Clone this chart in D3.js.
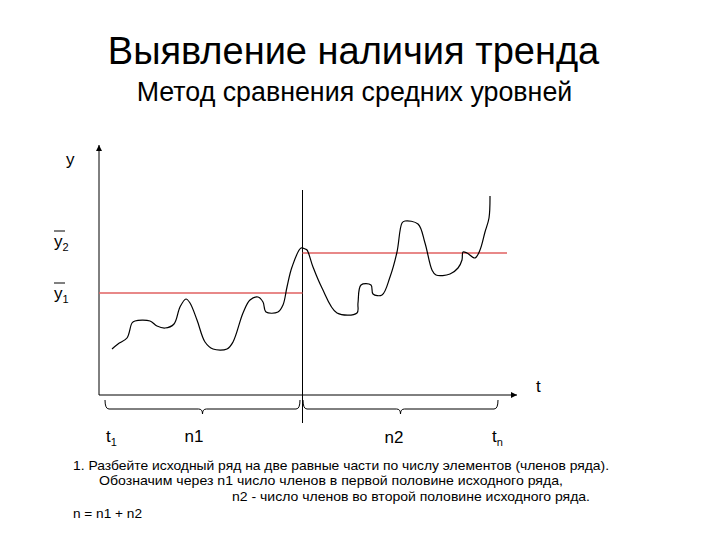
<!DOCTYPE html>
<html><head><meta charset="utf-8">
<script src="https://cdn.jsdelivr.net/npm/d3@7"></script>
<style>
html,body{margin:0;padding:0;background:#fff;}
svg text{font-family:"Liberation Sans",Arial,sans-serif;fill:#000;}
</style></head>
<body><svg id="c" width="720" height="540"></svg>
<script>
// ---- data (t = time position, v = level) ----
const seriesT = [13,19,28,33,36,51,58,66,75,81,87,91,98,106,114,128,134,144,151,159,164,167,179,184,188,193,202,206,
                 208,214,223,238,258,259,262,272,274,283,291,298,303,306,319,326,333,337,351,359,363,364,368,376,381,386,390,391];
const seriesV = [46,51,57,72,74,74,69,67,71,88,96,92,75,53,46,46,53,82,95,98,93,83,83,90,108,128,147,146,
                 145,128,107,82,82,92,110,110,101,100,118,143,172,174,171,152,125,120,121,127,135,143,142,137,145,163,177,199];
const halfStart = [0, 203.5];
const halfEnd = [203.5, 408];
const halfMeans = [102, 142];
const braceStart = [6, 204];
const braceEnd = [201, 399];
const braceLabels = ["n1", "n2"];
const title = "Выявление наличия тренда";
const subtitle = "Метод сравнения средних уровней";
const notes = [
  "1. Разбейте исходный ряд на две равные части по числу элементов (членов ряда).",
  "Обозначим через n1 число членов в первой половине исходного ряда,",
  "n2  - число членов во второй половине исходного ряда.",
  "n = n1 + n2"
];

const svg = d3.select("#c");
const x = d3.scaleLinear().domain([0, 418]).range([99, 517]);
const y = d3.scaleLinear().domain([0, 250]).range([395, 145]);

// titles
svg.append("text").attr("x", 353.5).attr("y", 64).attr("text-anchor", "middle")
  .style("font-size", "38px").text(title);
svg.append("text").attr("x", 354.5).attr("y", 101).attr("text-anchor", "middle")
  .style("font-size", "26.8px").text(subtitle);

// arrow marker
const defs = svg.append("defs");
defs.append("marker").attr("id", "arr").attr("viewBox", "0 0 10 10").attr("refX", 10).attr("refY", 5)
  .attr("markerWidth", 7).attr("markerHeight", 6).attr("markerUnits", "userSpaceOnUse").attr("orient", "auto")
  .append("path").attr("d", "M0,0 L10,5 L0,10 z").attr("fill", "#000");

// axes
svg.append("line").attr("x1", x(0)).attr("y1", y(0)).attr("x2", x(0)).attr("y2", y(250))
  .attr("stroke", "#000").attr("stroke-width", 1).attr("marker-end", "url(#arr)");
svg.append("line").attr("x1", x(0)).attr("y1", y(0)).attr("x2", x(418)).attr("y2", y(0))
  .attr("stroke", "#000").attr("stroke-width", 1).attr("marker-end", "url(#arr)");

// divider
svg.append("line").attr("x1", x(halfEnd[0])).attr("x2", x(halfEnd[0]))
  .attr("y1", y(205)).attr("y2", y(-28)).attr("stroke", "#000").attr("stroke-width", 1);

// mean lines
halfMeans.forEach((m, i) => {
  svg.append("line").attr("x1", x(halfStart[i])).attr("x2", x(halfEnd[i]))
    .attr("y1", y(m)).attr("y2", y(m)).attr("stroke", "#e06060").attr("stroke-width", 1.5);
});

// series
const pts = seriesT.map((t, i) => [t, seriesV[i]]);
svg.append("path").datum(pts)
  .attr("d", d3.line().x(d => x(d[0])).y(d => y(d[1])).curve(d3.curveCatmullRom.alpha(0.5)))
  .attr("fill", "none").attr("stroke", "#000").attr("stroke-width", 1.2);

// braces
const by0 = y(0) + 5, by1 = y(0) + 14, btip = y(0) + 19;
braceStart.forEach((s, i) => {
  const x0 = x(s), x1 = x(braceEnd[i]), xc = (x0 + x1) / 2;
  const p = `M${x0},${by0} Q${x0},${by1} ${x0+4},${by1} L${xc-4},${by1} Q${xc},${by1} ${xc},${btip} Q${xc},${by1} ${xc+4},${by1} L${x1-4},${by1} Q${x1},${by1} ${x1},${by0}`;
  svg.append("path").attr("d", p).attr("fill", "none").attr("stroke", "#000").attr("stroke-width", 1);
});
svg.append("text").attr("x", 194).attr("y", 442).attr("text-anchor", "middle").style("font-size", "17px").text(braceLabels[0]);
svg.append("text").attr("x", 394).attr("y", 443).attr("text-anchor", "middle").style("font-size", "17px").text(braceLabels[1]);

// axis labels
svg.append("text").attr("x", 66).attr("y", 165).style("font-size", "17px").text("y");
svg.append("text").attr("x", 536).attr("y", 392).style("font-size", "17px").text("t");
function subLabel(xp, yp, main, sub, bar) {
  const t = svg.append("text").attr("x", xp).attr("y", yp).style("font-size", "17px");
  t.append("tspan").text(main);
  t.append("tspan").attr("dy", 4).style("font-size", "11px").text(sub);
  if (bar) svg.append("line").attr("x1", xp).attr("x2", xp + 11).attr("y1", yp - 16).attr("y2", yp - 16)
    .attr("stroke", "#000").attr("stroke-width", 1);
}
subLabel(54, 247, "y", "2", true);
subLabel(54, 299, "y", "1", true);
subLabel(106, 442, "t", "1", false);
subLabel(492, 442, "t", "n", false);

// notes
const nx = [73, 99, 232, 73], ny = [470, 485, 501, 518], nw = [536, 464, 358, 69];
notes.forEach((n, i) => {
  svg.append("text").attr("x", nx[i]).attr("y", ny[i]).style("font-size", "13px")
    .attr("textLength", nw[i]).attr("lengthAdjust", "spacingAndGlyphs").text(n);
});
</script></body></html>
